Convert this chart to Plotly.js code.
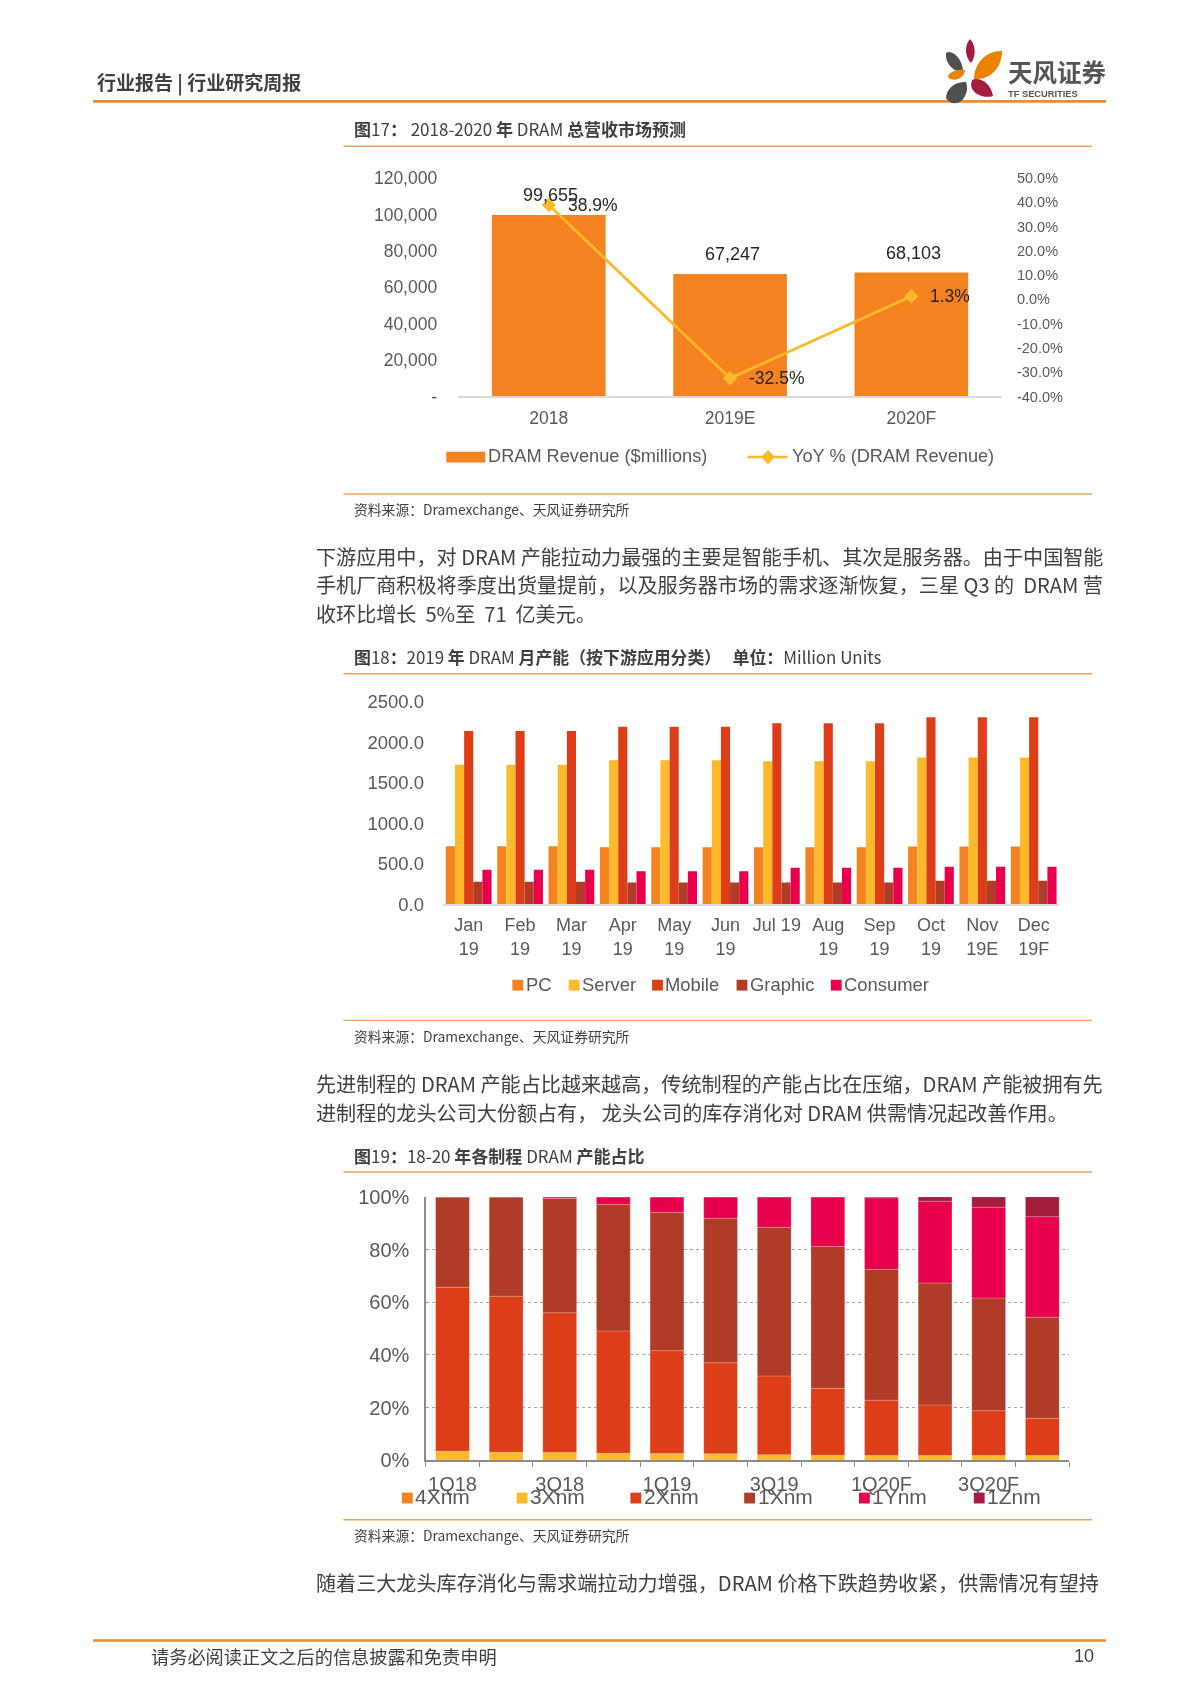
<!DOCTYPE html>
<html><head><meta charset="utf-8">
<script src="https://cdn.plot.ly/plotly-3.0.1.min.js"></script>
<style>html,body{margin:0;padding:0;background:#fff}#g{width:1200px;height:1698px;filter:blur(0.35px)}</style>
</head><body><div id="g"></div>
<script>
// ---- Chart 1 data
const revCats = ['2018','2019E','2020F'];
const revenue = [99655,67247,68103];
const revLabels = ['99,655','67,247','68,103'];
const yoy = [38.9,-32.5,1.3];
const yoyLabels = ['38.9%','-32.5%','1.3%'];
const revTicks = [0,20000,40000,60000,80000,100000,120000];
const revTickText = ['-','20,000','40,000','60,000','80,000','100,000','120,000'];
const yoyTicks = [-40,-30,-20,-10,0,10,20,30,40,50];
const yoyTickText = ['-40.0%','-30.0%','-20.0%','-10.0%','0.0%','10.0%','20.0%','30.0%','40.0%','50.0%'];
// ---- Chart 2 data
const months = ['Jan<br>19','Feb<br>19','Mar<br>19','Apr<br>19','May<br>19','Jun<br>19','Jul 19','Aug<br>19','Sep<br>19','Oct<br>19','Nov<br>19E','Dec<br>19F'];
const pc       = [720,720,720,707,707,707,707,707,707,715,715,715];
const server   = [1723,1723,1723,1780,1780,1780,1768,1768,1768,1813,1813,1813];
const mobile   = [2142,2142,2142,2192,2192,2192,2237,2237,2237,2311,2311,2311];
const graphic  = [280,280,280,271,271,271,271,271,271,292,292,292];
const consumer = [428,428,428,411,411,411,452,452,452,465,465,465];
// ---- Chart 3 data
const quarters = ['1Q18','2Q18','3Q18','4Q18','1Q19','2Q19','3Q19','4Q19','1Q20F','2Q20F','3Q20F','4Q20F'];
const quarterLabels = ['1Q18','','3Q18','','1Q19','','3Q19','','1Q20F','','3Q20F',''];
const n4x = [0,0,0,0,0,0,0,0,0,0,0,0];
const n3x = [3.4,3.0,2.9,2.6,2.5,2.4,2.1,1.9,1.8,1.8,1.8,1.8];
const n2x = [62.3,59.3,53.1,46.5,39.1,34.6,29.9,25.4,21.0,19.2,17.0,14.1];
const n1x = [34.3,37.7,43.4,48.1,52.6,54.9,56.5,53.9,49.7,46.3,42.8,38.4];
const n1y = [0,0,0.6,2.8,5.8,8.1,11.5,18.8,27.2,31.1,34.5,38.2];
const n1z = [0,0,0,0,0,0,0,0,0.3,1.6,3.9,7.5];
// ---- Colours
const ORANGE='#f58220',YEL='#fdb92a',RED='#de3e17',BRN='#b03c28',PINK='#e8004c',WINE='#a51c3c';
const GREY='#595959',RULE='#eda35c';
const CJK='"Noto Sans CJK SC","Liberation Sans",sans-serif';
const LAT='"Liberation Sans",Arial,sans-serif';
// ---- Helpers: reference-pixel positions to paper fractions
const W=1200,H=1698,K=1.0832;
const px=x=>x*K/W, py=y=>1-y*K/H;
const dx=(a,b)=>[px(a),px(b)], dy=(top,bot)=>[py(bot),py(top)];
const ann=[],shp=[];
function label(x,y,text,size,opts={}){
  ann.push(Object.assign({xref:'paper',yref:'paper',x:px(x-2),y:py(y-1),text,showarrow:false,xanchor:'left',yanchor:'middle',
    font:{family:CJK,size,color:'#404040'}},opts,{font:Object.assign({family:CJK,size,color:'#404040'},opts.font||{})}));
}
function rule(x0,x1,y,color,w){shp.push({type:'line',xref:'paper',yref:'paper',x0:px(x0),x1:px(x1),y0:py(y),y1:py(y),line:{color,width:w}});}
function rect(x0,x1,y0,y1,color){shp.push({type:'rect',xref:'paper',yref:'paper',x0:px(x0),x1:px(x1),y0:py(y0),y1:py(y1),fillcolor:color,line:{width:0}});}
function blob(d,color){
  const p=d.replace(/(-?[\d.]+) (-?[\d.]+)/g,(m,a,b)=>(+a/W)+','+(1-b/H));
  shp.push({type:'path',xref:'paper',yref:'paper',path:p,fillcolor:color,line:{width:0}});
}
function swatches(names,colors,xs,y,size,fs){
  names.forEach((nm,i)=>{
    rect(xs[i],xs[i]+size,y-size/2,y+size/2,colors[i]);
    label(xs[i]+size+2.5,y,nm,fs,{font:{family:LAT,color:GREY}});
  });
}
// ---- Page furniture
label(90,77,'<b>行业报告 | 行业研究周报</b>',19);
rule(86,1021,93.5,'#ed8a2e',2.8);
label(930.5,67,'<b>天风证券</b>',24.5,{font:{color:'#555555'}});
label(931,87.5,'<b>TF SECURITIES</b>',9.3,{font:{family:LAT,color:'#555555'}});
// logo petals, in page pixels
blob('M970 39 C975 44 977 55 971 63 C965 57 964 46 970 39 Z','#a51c3c');
blob('M946 53 C952 49 963 59 963 72 C952 72 945 62 946 53 Z','#505050');
blob('M1002 51 C988 50 974 62 974 79 C992 80 1002 66 1002 51 Z','#ea8400');
blob('M965 70 C956 69 948 73 948 77 C952 82 964 80 965 70 Z','#ea8400');
blob('M966 82 C954 81 946 90 946 98 C950 106 964 106 967 90 C967 87 967 85 966 82 Z','#505050');
blob('M972 80 C978 77 990 81 993 96 C984 99 972 94 971 85 Z','#a51c3c');

label(327,120,'<b>图</b>17<b>：</b> 2018-2020 <b>年</b> DRAM <b>总营收市场预测</b>',17);
rule(317,1008,135,RULE,1.4);
rule(317,1008,456,RULE,1.4);
label(327,471,'资料来源：Dramexchange、天风证券研究所',13.8);

label(292,515,'下游应用中，对 DRAM 产能拉动力最强的主要是智能手机、其次是服务器。由于中国智能',20.1);
label(292,541,'手机厂商积极将季度出货量提前，以及服务器市场的需求逐渐恢复，三星 Q3 的  DRAM 营',20.1);
label(292,567,'收环比增长  5%至  71  亿美元。',20.1);

label(327,607,'<b>图</b>18<b>：</b>2019 <b>年</b> DRAM <b>月产能（按下游应用分类）</b>   <b>单位：</b>Million Units',16.9);
rule(317,1008,622,RULE,1.4);
rule(317,1008,942,RULE,1.4);
label(327,957,'资料来源：Dramexchange、天风证券研究所',13.8);

label(292,1001,'先进制程的 DRAM 产能占比越来越高，传统制程的产能占比在压缩，DRAM 产能被拥有先',20.1);
label(292,1028,'进制程的龙头公司大份额占有， 龙头公司的库存消化对 DRAM 供需情况起改善作用。',20.1);

label(327,1068,'<b>图</b>19<b>：</b>18-20 <b>年各制程</b> DRAM <b>产能占比</b>',17);
rule(317,1008,1082,RULE,1.4);
rule(317,1008,1403,RULE,1.4);
label(327,1418,'资料来源：Dramexchange、天风证券研究所',13.8);

label(292,1462,'随着三大龙头库存消化与需求端拉动力增强，DRAM 价格下跌趋势收紧，供需情况有望持',20.1);
rule(86,1021,1514.5,'#ed8a2e',2.4);
label(140,1530,'请务必阅读正文之后的信息披露和免责申明',18.2);
label(1014,1530,'10',18,{xanchor:'right',font:{family:LAT}});

// ---- Chart 1 legend
rect(412,448,417,427,ORANGE);
label(451,422,'DRAM Revenue ($millions)',18.2,{font:{family:LAT,color:GREY}});
rule(690,727,422,YEL,2.5);
blob(`M${709*K} ${415.5*K} L${715.5*K} ${422*K} L${709*K} ${428.5*K} L${702.5*K} ${422*K} Z`,YEL);
label(731,422,'YoY % (DRAM Revenue)',18.2,{font:{family:LAT,color:GREY}});
// ---- Chart 2 and 3 legends
const names2=['PC','Server','Mobile','Graphic','Consumer'];
swatches(names2,[ORANGE,YEL,RED,BRN,PINK],[473,525,602,680,767],909.5,10,18.4);
const names3=['4Xnm','3Xnm','2Xnm','1Xnm','1Ynm','1Znm'];
swatches(names3,[ORANGE,YEL,RED,BRN,PINK,WINE],[371,477,582,687,793,899],1383,10,21);

// ---- Data labels in chart 1 (x given as the category's position)
revCats.forEach((c,i)=>{
  ann.push({xref:'x',yref:'y',x:i,y:revenue[i],text:revLabels[i],showarrow:false,xshift:2,yshift:20,xanchor:'center',yanchor:'middle',
    font:{family:LAT,size:18,color:'#262626'}});
  ann.push({xref:'x',yref:'y2',x:i,y:yoy[i],text:yoyLabels[i],showarrow:false,xshift:17,xanchor:'left',yanchor:'middle',
    font:{family:LAT,size:17.5,color:'#262626'}});
});

// ---- Traces
const traces=[];
traces.push({type:'bar',name:'DRAM Revenue ($millions)',x:revCats,y:revenue,xaxis:'x',yaxis:'y',marker:{color:ORANGE},width:0.627,offset:-0.3135,opacity:1});
traces.push({type:'scatter',mode:'lines+markers',name:'YoY % (DRAM Revenue)',x:revCats,y:yoy,xaxis:'x',yaxis:'y2',line:{color:YEL,width:2.8},marker:{symbol:'diamond',size:11,color:YEL}});
const w2=0.178;
[[names2[0],pc,ORANGE],[names2[1],server,YEL],[names2[2],mobile,RED],[names2[3],graphic,BRN],[names2[4],consumer,PINK]].forEach((s,i)=>{
  traces.push({type:'bar',name:s[0],x:months,y:s[1],xaxis:'x3',yaxis:'y3',marker:{color:s[2]},width:w2,offset:-2.5*w2+i*w2,opacity:1});
});
const series3=[[names3[0],n4x,ORANGE],[names3[1],n3x,YEL],[names3[2],n2x,RED],[names3[3],n1x,BRN],[names3[4],n1y,PINK],[names3[5],n1z,WINE]];
const cum=quarters.map(()=>0);
series3.forEach(s=>{
  traces.push({type:'bar',name:s[0],x:quarters,y:s[1],base:cum.slice(),xaxis:'x4',yaxis:'y4',marker:{color:s[2],line:{color:'rgba(255,255,255,0.25)',width:0.8}},width:0.63,offset:-0.315,opacity:1});
  s[1].forEach((v,i)=>cum[i]+=v);
});

const layout={
  width:W,height:H,margin:{l:0,r:0,t:0,b:0},paper_bgcolor:'#fff',plot_bgcolor:'rgba(0,0,0,0)',
  barmode:'overlay',showlegend:false,font:{family:LAT,color:GREY},
  annotations:ann,shapes:shp,
  xaxis:{domain:dx(423,925),anchor:'y',type:'category',range:[-0.5,2.5],showgrid:false,showline:true,linecolor:'#d9d9d9',linewidth:1.4,ticks:'',ticklen:0,
    tickfont:{size:17.5,color:GREY},fixedrange:true,ticklabelstandoff:5},
  yaxis:{domain:dy(164.4,366),anchor:'x',range:[0,120000],tickvals:revTicks,ticktext:revTickText,showgrid:false,zeroline:false,showline:false,ticks:'',
    tickfont:{size:17.5,color:GREY},fixedrange:true,automargin:false,ticklabelstandoff:20},
  yaxis2:{domain:dy(164.4,366),anchor:'x',overlaying:'y',side:'right',range:[-40,50],tickvals:yoyTicks,ticktext:yoyTickText,showgrid:false,zeroline:false,showline:false,ticks:'',
    tickfont:{size:14.5,color:GREY},fixedrange:true,ticklabelstandoff:14},
  xaxis3:{domain:dx(409,978),anchor:'y3',type:'category',range:[-0.5,11.5],showgrid:false,showline:true,linecolor:'#d9d9d9',linewidth:1.4,ticks:'',
    tickfont:{size:18,color:GREY},tickangle:0,fixedrange:true,ticklabelstandoff:4},
  yaxis3:{domain:dy(648,835),anchor:'x3',range:[0,2500],dtick:500,tickformat:'.1f',showgrid:false,zeroline:false,showline:false,ticks:'',
    tickfont:{size:18.5,color:GREY},fixedrange:true,ticklabelstandoff:18},
  xaxis4:{domain:dx(393,987),anchor:'y4',type:'category',range:[-0.5,11.5],tickmode:'array',tickvals:quarters,ticktext:quarterLabels,tickson:'boundaries',
    showgrid:false,showline:true,linecolor:'#8c8c8c',linewidth:1.4,ticks:'outside',ticklen:5,tickcolor:'#8c8c8c',tickangle:0,
    tickfont:{size:20,color:GREY},fixedrange:true,ticklabelstandoff:5},
  yaxis4:{domain:dy(1105,1348),anchor:'x4',range:[0,100],dtick:20,ticksuffix:'%',showgrid:true,gridcolor:'#a6a6a6',griddash:'dot',gridwidth:1,zeroline:false,showline:true,linecolor:'#8c8c8c',linewidth:1.4,ticks:'',
    tickfont:{size:20,color:GREY},fixedrange:true,ticklabelstandoff:11}
};
Plotly.newPlot('g',traces,layout,{displayModeBar:false,staticPlot:true});
</script></body></html>
